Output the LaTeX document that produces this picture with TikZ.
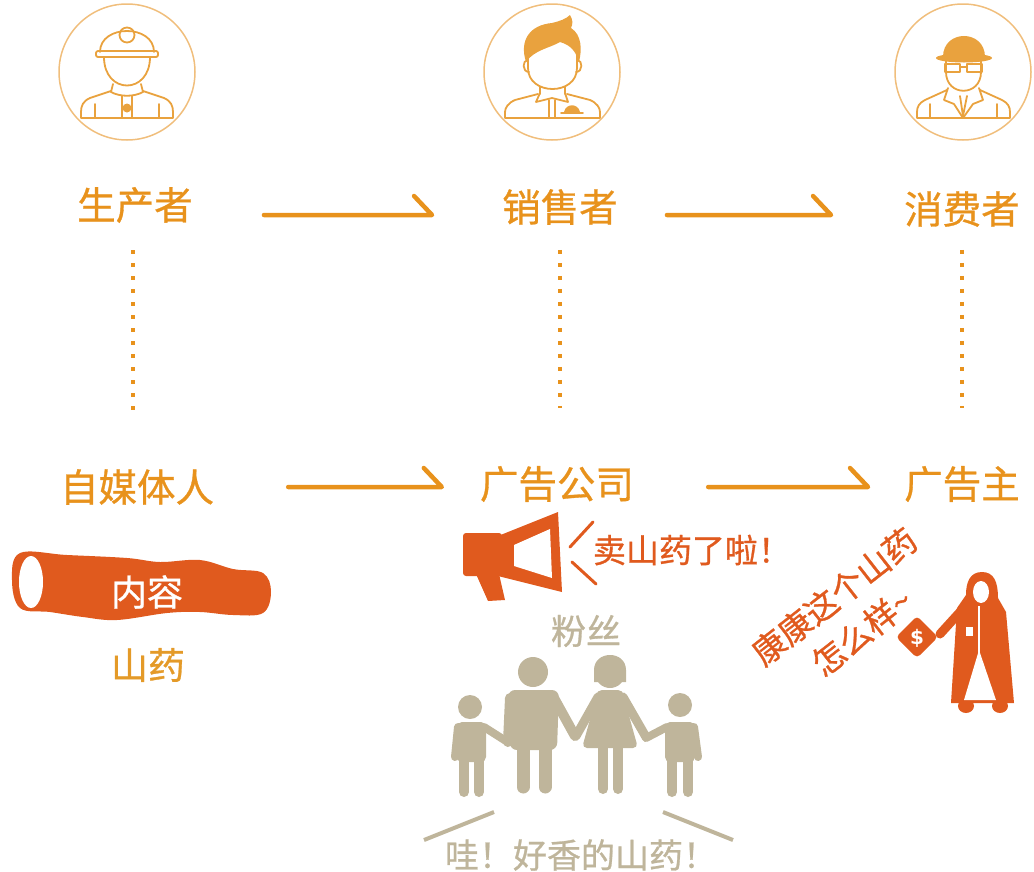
\documentclass[tikz,border=0pt]{standalone}
\usepackage{fontspec}
\newfontfamily\cjk{Noto Sans CJK SC}[FakeBold=0.8]
\newfontfamily\dejavu{DejaVu Sans}
\usetikzlibrary{calc}
\definecolor{lblc}{HTML}{E8921C}
\definecolor{yamtxt}{HTML}{E49A28}
\definecolor{ringc}{HTML}{F0BE7C}
\definecolor{iconc}{HTML}{E9A23E}
\definecolor{redc}{HTML}{E05A1E}
\definecolor{beigec}{HTML}{BFB59B}
\begin{document}
\begin{tikzpicture}[x=1pt,y=-1pt,
  lbl/.style={font=\cjk\fontsize{38.5}{42}\selectfont, text=lblc, inner sep=0pt},
  flow/.style={draw=lblc, line width=4.5pt, line cap=round, line join=round},
  dots/.style={draw=lblc, line width=4pt, dash pattern=on 4pt off 9pt},
  ring/.style={draw=ringc, line width=1.5pt},
  icon/.style={draw=iconc, line width=1.8pt, line cap=round, line join=round},
  fam/.style={draw=beigec, line cap=round, line join=round},
]
\useasboundingbox (0,0) rectangle (1034,871);

% ---------- portrait rings ----------
\draw[ring] (127,72) circle (68);
\draw[ring] (552,72) circle (68);
\draw[ring] (963,72) circle (68);

% worker
\draw[icon] (100,52) .. controls (100,24) and (154,24) .. (154,52);
\draw[icon, rounded corners=2] (96,51) rectangle (158,57);
\draw[icon] (127,35) circle (7.5);
\draw[icon] (104,57) .. controls (104,95) and (150,95) .. (150,57);
\draw[icon] (113,84) -- (111,92);
\draw[icon] (141,84) -- (143,92);
\draw[icon] (111,92) .. controls (120,97) and (134,97) .. (143,92);
\draw[icon] (111,91) -- (90,98) .. controls (83,101) and (81,106) .. (81,112) -- (81,118) -- (173,118) -- (173,112) .. controls (173,106) and (171,101) .. (164,98) -- (143,91);
\draw[icon] (122,96) -- (122,118);
\draw[icon] (132,96) -- (132,118);
\draw[icon] (95,104) -- (95,118);
\draw[icon] (159,104) -- (159,118);
\fill[iconc] (127,108) circle (4.5);

% salesman
\fill[iconc] (526,62) .. controls (519,40) and (530,25) .. (552,23) .. controls (560,21) and (566,19) .. (570,15) .. controls (573,20) and (573,24) .. (571,28) .. controls (582,35) and (582,50) .. (579,62) .. controls (576,52) and (571,45) .. (560,42) .. controls (550,48) and (534,50) .. (526,62) -- cycle;
\draw[icon] (528,55) -- (528,68) .. controls (528,96) and (577,96) .. (577,68) -- (577,55);
\draw[icon] (528,60) .. controls (522,60) and (522,72) .. (529,72);
\draw[icon] (577,60) .. controls (583,60) and (583,72) .. (576,72);
\draw[icon] (540,87) -- (540,94);
\draw[icon] (565,87) -- (565,94);
\draw[icon] (540,93) -- (536,102) -- (552,98) -- (568,102) -- (565,93);
\draw[icon] (538,94) -- (515,100) .. controls (508,103) and (505,108) .. (505,112) -- (505,118) -- (600,118) -- (600,112) .. controls (600,108) and (597,103) .. (590,100) -- (567,94);
\draw[icon] (549,100) -- (549,118);
\draw[icon] (555,100) -- (555,118);
\fill[iconc] (564,112) .. controls (566,103) and (578,103) .. (580,112) -- cycle;
\draw[icon] (561,113) -- (583,113);

% consumer
\fill[iconc] (943,57) .. controls (943,29) and (985,29) .. (985,57) -- cycle;
\fill[iconc] (964,58) ellipse [x radius=28, y radius=4.5];
\draw[icon, line width=1.4pt] (945,64) rectangle (960,72);
\draw[icon, line width=1.4pt] (967,64) rectangle (982,72);
\draw[icon, line width=1.4pt] (960,67) -- (967,67);
\draw[icon] (946,60) -- (946,72) .. controls (946,97) and (981,97) .. (981,72) -- (981,60);
\draw[icon] (947,90) -- (925,100) .. controls (919,103) and (917,107) .. (917,112) -- (917,118) -- (1010,118) -- (1010,112) .. controls (1010,107) and (1008,103) .. (1002,100) -- (980,90);
\draw[icon] (948,88) -- (944,100) -- (954,104) -- (963,118);
\draw[icon] (979,88) -- (983,100) -- (973,104) -- (963,118);
\draw[icon] (960,96) -- (963,116) -- (967,96);
\draw[icon] (930,104) -- (930,118);
\draw[icon] (997,104) -- (997,118);

% ---------- role labels ----------
\node[lbl] (prod) at (135,205) {生产者};
\node[lbl] (sell) at (560,207) {销售者};
\node[lbl] (cons) at (962,209) {消费者};
\node[lbl] (media) at (137,487) {自媒体人};
\node[lbl] (agency) at (557,484) {广告公司};
\node[lbl] (owner) at (962,484) {广告主};

% flow arrows (half-barbed)
\draw[flow] ($(prod.east)+(71,10)$) -- ($(sell.west)+(-70,8)$) -- ++(-18,-19);
\draw[flow] ($(sell.east)+(49,8)$) -- ($(cons.west)+(-73,6)$) -- ++(-18,-19);
\draw[flow] ($(media.east)+(74,0)$) -- ($(agency.west)+(-38,3)$) -- ++(-18,-19);
\draw[flow] ($(agency.east)+(74,3)$) -- ($(owner.west)+(-36,3)$) -- ++(-18,-19);

% dotted links between the rows
\draw[dots] ($(prod.south)+(-2,27)$) -- ($(prod.south |- media.north)+(-2,-58)$);
\draw[dots] ($(sell.south)+(0,25)$) -- ($(sell.south |- agency.north)+(0,-58)$);
\draw[dots] ($(cons.south)+(0,23)$) -- ($(cons.south |- owner.north)+(0,-58)$);

% ---------- yam ----------
\fill[redc] plot[smooth cycle, tension=0.6] coordinates {(20,553) (67,555) (127,558) (160,562) (200,560) (233,569) (263,573) (271,592) (263,613) (233,615) (200,612) (167,613) (117,620) (83,617) (50,612) (20,608) (12,580)};
\fill[white] (31,582) ellipse [x radius=12, y radius=26];
\node[font=\cjk\fontsize{36}{40}\selectfont, text=white, inner sep=0pt] (content) at (147,592) {内容};
\node[font=\cjk\fontsize{37}{40}\selectfont, text=yamtxt, inner sep=0pt] (yam) at (148,665) {山药};

% ---------- megaphone ----------
\fill[redc, rounded corners=3] (463,533) rectangle (502,576);
\fill[redc] (498,536) -- (558,512) -- (562,592) -- (498,576) -- cycle;
\fill[white] (514,545) -- (550,529) -- (552,578) -- (514,566) -- cycle;
\fill[redc] (476,574) -- (499,574) -- (505,600) -- (488,601) -- cycle;
\draw[redc, line width=3pt, line cap=round] (593,522) -- (570,547);
\draw[redc, line width=3pt, line cap=round] (572,562) -- (596,584);
\node[font=\cjk\fontsize{33}{36}\selectfont, text=redc, inner sep=0pt] (shout) at (692,550) {卖山药了啦！};

% ---------- fans ----------
\node[font=\cjk\fontsize{35}{38}\selectfont, text=beigec, inner sep=0pt] (fans) at (586,631) {粉丝};
% man
\fill[beigec] (533,672) circle (15);
\fill[beigec, rounded corners=7] (508,690) -- (559,690) -- (557,750) -- (510,750) -- cycle;
\draw[fam, line width=13pt] (523,748) -- (523,787);
\draw[fam, line width=13pt] (545,748) -- (545,787);
\draw[fam, line width=10pt] (510,698) -- (508,742);
\draw[fam, line width=10pt] (554,698) -- (575,736);
% woman
\fill[beigec] (610,673) circle (15);
\fill[beigec] (594,670) .. controls (594,650) and (626,650) .. (626,670) -- (626,682) -- (594,682) -- cycle;
\fill[beigec, rounded corners=5] (597,690) -- (623,690) -- (626,705) -- (638,748) -- (582,748) -- (594,705) -- cycle;
\draw[fam, line width=10pt] (603,745) -- (603,789);
\draw[fam, line width=10pt] (618,745) -- (618,789);
\draw[fam, line width=9pt] (598,697) -- (576,736);
\draw[fam, line width=9pt] (623,697) -- (646,737);
% left child
\fill[beigec] (470,707) circle (12);
\fill[beigec, rounded corners=5] (457,722) rectangle (486,762);
\draw[fam, line width=10pt] (464,758) -- (464,792);
\draw[fam, line width=10pt] (479,758) -- (479,792);
\draw[fam, line width=8pt] (458,727) -- (455,757);
\draw[fam, line width=8pt] (484,727) -- (506,741);
% right child
\fill[beigec] (680,705) circle (12);
\fill[beigec, rounded corners=5] (665,722) rectangle (695,762);
\draw[fam, line width=10pt] (672,758) -- (672,792);
\draw[fam, line width=10pt] (688,758) -- (688,792);
\draw[fam, line width=8pt] (694,727) -- (698,757);
\draw[fam, line width=8pt] (667,727) -- (646,738);
% chatter lines
\draw[fam, line width=4pt, line cap=butt] (424,840) -- (494,812);
\draw[fam, line width=4pt, line cap=butt] (663,812) -- (733,840);
\node[font=\cjk\fontsize{34}{37}\selectfont, text=beigec, inner sep=0pt] (wow) at (581,855) {哇！好香的山药！};

% ---------- advertiser ----------
\node[font=\cjk\fontsize{33}{45}\selectfont, text=redc, inner sep=0pt, rotate=38, align=center] (ask) at (848,614) {康康这个山药\\怎么样\textasciitilde};
\fill[redc] (982,572) .. controls (970,572) and (966,582) .. (966,595) -- (957,608) -- (951,703) -- (1014,703) -- (1006,612) -- (998,598) .. controls (998,582) and (994,572) .. (982,572) -- cycle;
\fill[redc] (966,706) ellipse [x radius=8, y radius=7];
\fill[redc] (1000,706) ellipse [x radius=8, y radius=7];
\fill[white] (981,592) ellipse [x radius=8, y radius=11];
\draw[white, line width=1.6pt] (979,606) -- (979,660);
\fill[white] (979,650) -- (964,700) -- (996,700) -- cycle;
\fill[white] (966,627) rectangle (973,636);
\draw[redc, line width=9pt, line cap=round] (960,612) -- (940,634);
\fill[redc, rounded corners=4] (917,616) -- (938,637) -- (917,658) -- (896,637) -- cycle;
\node[font=\dejavu\bfseries\fontsize{20}{22}\selectfont, text=white, inner sep=0pt] (coin) at (917,638) {\$};

\end{tikzpicture}
\end{document}
